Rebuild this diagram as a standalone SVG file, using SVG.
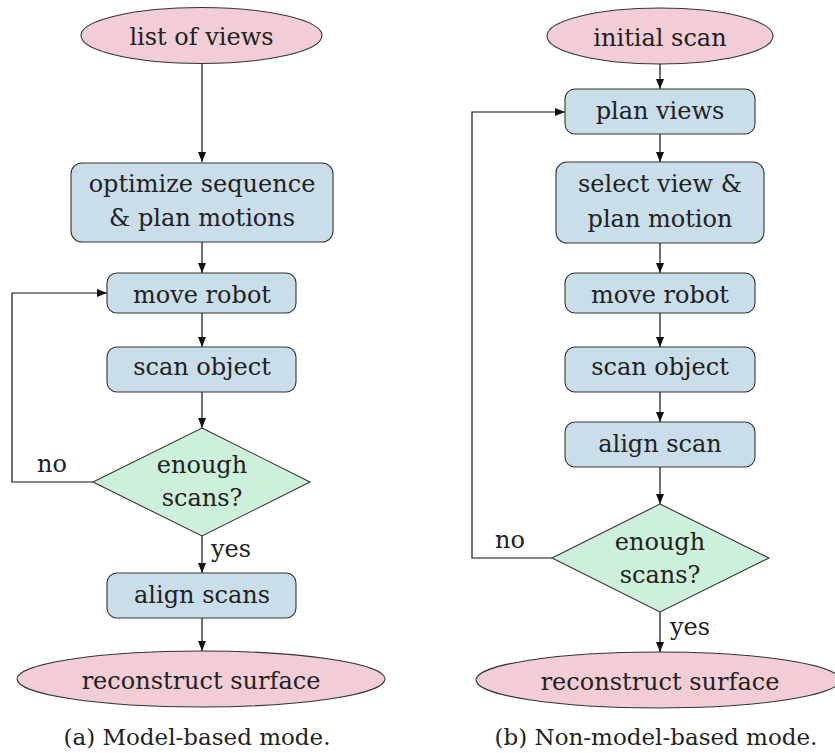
<svg xmlns="http://www.w3.org/2000/svg" width="835" height="753" viewBox="0 0 835 753">
  <style>
    text { font-family: "DejaVu Serif", "Liberation Serif", serif; font-size: 24px; fill: #222; text-anchor: middle; }
    .lbl { text-anchor: start; }
    .cap { font-size: 23px; }
    .term { fill: #F2CDD5; stroke: #333; stroke-width: 1.1; }
    .proc { fill: #CADEEA; stroke: #333; stroke-width: 1.1; }
    .dec { fill: #CCF0D9; stroke: #333; stroke-width: 1.1; }
    .edge { fill: none; stroke: #111; stroke-width: 1.2; }
    .arr { marker-end: url(#head); }
  </style>
  <defs>
    <marker id="head" viewBox="0 0 10 8" refX="10" refY="4" markerWidth="10" markerHeight="8" markerUnits="userSpaceOnUse" orient="auto">
      <path d="M0,0 L10,4 L0,8 Z" fill="#111"/>
    </marker>
  </defs>

  <rect width="835" height="753" fill="#fff"/>

  <!-- connectors -->
  <g id="connectors">
    <!-- (a) model-based -->
    <line class="edge arr" x1="202" y1="63" x2="202" y2="162"/>
    <line class="edge arr" x1="202" y1="242" x2="202" y2="273"/>
    <line class="edge arr" x1="202" y1="313" x2="202" y2="347"/>
    <line class="edge arr" x1="202" y1="392" x2="202" y2="428"/>
    <polyline class="edge arr" points="93,482 12,482 12,293 107,293"/>
    <line class="edge arr" x1="202" y1="536" x2="202" y2="573"/>
    <line class="edge arr" x1="202" y1="618" x2="202" y2="651"/>
    <!-- (b) non-model-based -->
    <line class="edge arr" x1="660" y1="64" x2="660" y2="89"/>
    <line class="edge arr" x1="660" y1="134" x2="660" y2="162"/>
    <line class="edge arr" x1="660" y1="243" x2="660" y2="273"/>
    <line class="edge arr" x1="660" y1="313" x2="660" y2="347"/>
    <line class="edge arr" x1="660" y1="392" x2="660" y2="422"/>
    <line class="edge arr" x1="660" y1="467" x2="660" y2="504"/>
    <polyline class="edge arr" points="552,558 472,558 472,112 565,112"/>
    <line class="edge arr" x1="660" y1="612" x2="660" y2="652"/>
    <text class="lbl" x="37" y="472">no</text>
    <text class="lbl" x="211" y="557">yes</text>
    <text class="lbl" x="495" y="548">no</text>
    <text class="lbl" x="670" y="635">yes</text>
  </g>

  <!-- (a) model-based mode -->
  <g id="a-list-of-views">
    <ellipse class="term" cx="201.5" cy="35.5" rx="120.5" ry="28"/>
    <text x="201.5" y="45">list of views</text>
  </g>
  <g id="a-optimize">
    <rect class="proc" x="71" y="163" width="262" height="79" rx="11"/>
    <text x="202" y="192">optimize sequence</text>
    <text x="202" y="226">&amp; plan motions</text>
  </g>
  <g id="a-move-robot">
    <rect class="proc" x="107" y="273" width="189" height="40" rx="10"/>
    <text x="202" y="303">move robot</text>
  </g>
  <g id="a-scan-object">
    <rect class="proc" x="107" y="347" width="189" height="45" rx="10"/>
    <text x="202" y="375">scan object</text>
  </g>
  <g id="a-enough-scans">
    <polygon class="dec" points="202,428 310,482 202,536 93,482"/>
    <text x="202" y="473">enough</text>
    <text x="202" y="506">scans?</text>
  </g>
  <g id="a-align-scans">
    <rect class="proc" x="107" y="573" width="189" height="45" rx="10"/>
    <text x="202" y="603">align scans</text>
  </g>
  <g id="a-reconstruct">
    <ellipse class="term" cx="201" cy="679" rx="184" ry="28"/>
    <text x="201" y="689">reconstruct surface</text>
  </g>
  <text class="cap" x="197" y="745">(a) Model-based mode.</text>

  <!-- (b) non-model-based mode -->
  <g id="b-initial-scan">
    <ellipse class="term" cx="660" cy="36" rx="113" ry="28"/>
    <text x="660" y="46">initial scan</text>
  </g>
  <g id="b-plan-views">
    <rect class="proc" x="565" y="89" width="190" height="45" rx="10"/>
    <text x="660" y="119">plan views</text>
  </g>
  <g id="b-select-view">
    <rect class="proc" x="556" y="162" width="208" height="81" rx="11"/>
    <text x="660" y="192">select view &amp;</text>
    <text x="660" y="227">plan motion</text>
  </g>
  <g id="b-move-robot">
    <rect class="proc" x="565" y="273" width="190" height="40" rx="10"/>
    <text x="660" y="303">move robot</text>
  </g>
  <g id="b-scan-object">
    <rect class="proc" x="565" y="347" width="190" height="45" rx="10"/>
    <text x="660" y="375">scan object</text>
  </g>
  <g id="b-align-scan">
    <rect class="proc" x="565" y="422" width="190" height="45" rx="10"/>
    <text x="660" y="452">align scan</text>
  </g>
  <g id="b-enough-scans">
    <polygon class="dec" points="660,504 769,558 660,612 552,558"/>
    <text x="660" y="550">enough</text>
    <text x="660" y="583">scans?</text>
  </g>
  <g id="b-reconstruct">
    <ellipse class="term" cx="658" cy="680" rx="182" ry="28"/>
    <text x="660" y="690">reconstruct surface</text>
  </g>
  <text class="cap" x="656" y="745">(b) Non-model-based mode.</text>
</svg>
